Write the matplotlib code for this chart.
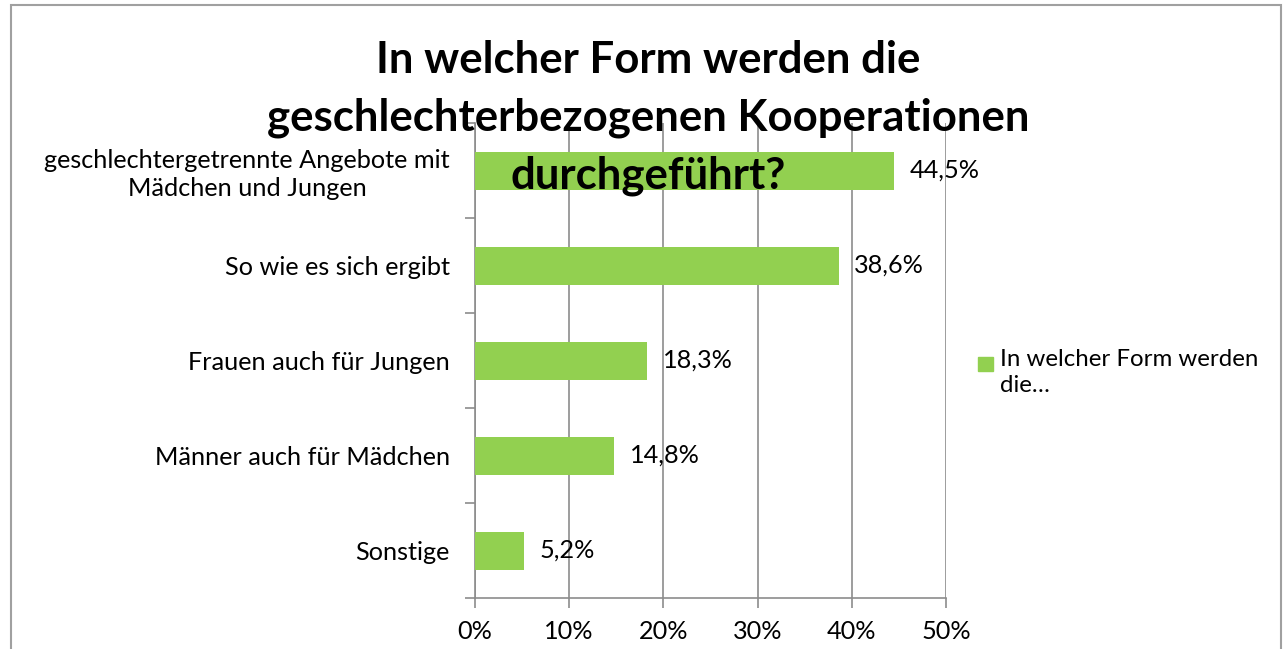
import matplotlib.pyplot as plt
from matplotlib.patches import Rectangle

categories = [
    "geschlechtergetrennte Angebote mit\nMädchen und Jungen",
    "So wie es sich ergibt",
    "Frauen auch für Jungen",
    "Männer auch für Mädchen",
    "Sonstige",
]
values = [44.5, 38.6, 18.3, 14.8, 5.2]
value_labels = ["44,5%", "38,6%", "18,3%", "14,8%", "5,2%"]
xticks = [0, 10, 20, 30, 40, 50]
xtick_labels = ["0%", "10%", "20%", "30%", "40%", "50%"]
series_name = "In welcher Form werden\ndie…"
title = "In welcher Form werden die\ngeschlechterbezogenen Kooperationen\ndurchgeführt?"

green = "#92D050"
grid = "#8c8c8c"

plt.rcParams["font.family"] = ["Lato", "DejaVu Sans"]

W, H = 1283, 649
fig = plt.figure(figsize=(W / 100, H / 100), dpi=100)
ax = fig.add_axes([475 / W, 1 - 598 / H, (946 - 475) / W, (598 - 123) / H])

y = list(range(len(categories)))
ax.barh(y, values, height=0.4, color=green, zorder=3)
ax.set_ylim(len(categories) - 0.5, -0.5)
ax.set_xlim(0, 50)

fs = 18.2
for yi, v, lab in zip(y, values, value_labels):
    ax.text(v + 1.6, yi, lab, va="center", ha="left", fontsize=fs, zorder=5)

ax.set_xticks(xticks)
ax.set_xticklabels(xtick_labels, fontsize=fs)
ax.set_yticks(y)
ax.set_yticklabels(categories, fontsize=fs, linespacing=1.25)
for lab in ax.get_yticklabels():
    lab.set_multialignment("center")
ax.set_yticks([i + 0.5 for i in range(-1, len(categories))], minor=True)
ax.tick_params(axis="y", which="major", length=0, pad=18)
ax.tick_params(axis="y", which="minor", length=7, color=grid, width=1.2)
ax.tick_params(axis="x", length=7, color=grid, width=1.2, pad=9)

ax.grid(axis="x", color=grid, linewidth=1.2, zorder=0)
for s in ["top", "right"]:
    ax.spines[s].set_visible(False)
for s in ["left", "bottom"]:
    ax.spines[s].set_color(grid)
    ax.spines[s].set_linewidth(1.2)

fig.text(648 / W, 1 - 118 / H, title, ha="center", va="center",
         fontsize=31.5, fontweight="bold", linespacing=1.52, zorder=10)

# legend
fig.patches.append(Rectangle((978 / W, 1 - 371 / H), 15 / W, 14 / H,
                             transform=fig.transFigure, color=green))
fig.text(1000 / W, 1 - 349 / H, series_name, ha="left", va="top",
         fontsize=17.3, linespacing=1.3)

# chart border
fig.patches.append(Rectangle((11 / W, -0.05), (1281 - 11) / W, 1 - 5 / H + 0.05,
                             transform=fig.transFigure, fill=False,
                             edgecolor="#a0a0a0", linewidth=1.5))

fig.savefig("out.png", dpi=100)
